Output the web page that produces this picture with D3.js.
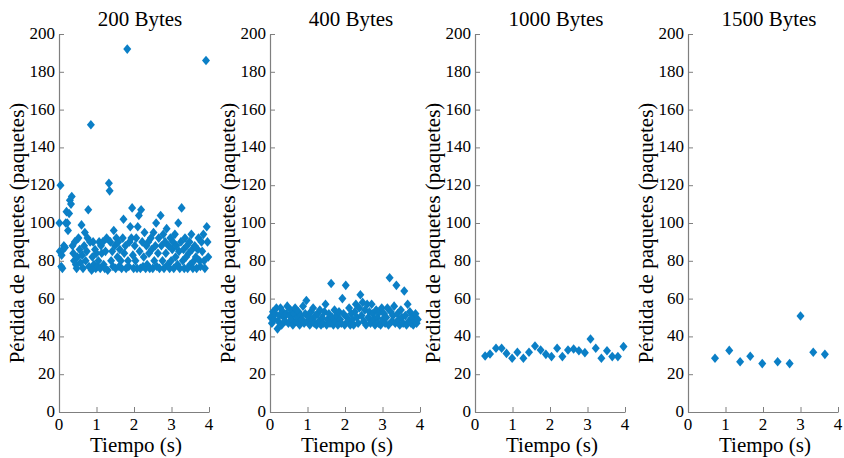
<!DOCTYPE html>
<html>
<head>
<meta charset="utf-8">
<script src="https://cdn.jsdelivr.net/npm/d3@7"></script>
<style>
  body { margin: 0; background: #fff; }
  text { font-family: "Liberation Serif", "Times New Roman", serif; }
</style>
</head>
<body>
<svg id="chart" width="844" height="458"></svg>
<script>
// ----------------------
// 1. Data
// ----------------------
const panelTitles = ["200 Bytes", "400 Bytes", "1000 Bytes", "1500 Bytes"];
const xTicks = [0, 1, 2, 3, 4];
const yTicks = [0, 20, 40, 60, 80, 100, 120, 140, 160, 180, 200];

// [tiempo (s), pérdida (paquetes)]
const loss200 = [
  [0.01,100],[0.02,85],[0.04,120],[0.06,77],[0.07,83],[0.09,76],[0.11,86],[0.13,88],[0.16,87],[0.18,100],[0.2,106],[0.22,100],[0.24,96],
  [0.27,105],[0.29,112],[0.32,110],[0.34,114],[0.36,88],[0.38,84],[0.4,80],[0.42,90],[0.45,78],[0.47,76],[0.49,82],
  [0.52,92],[0.55,86],[0.57,79],[0.6,99],[0.62,83],[0.64,76],[0.67,88],[0.69,95],[0.71,80],[0.74,85],
  [0.76,92],[0.78,107],[0.8,77],[0.83,90],[0.85,152],[0.87,75],[0.89,82],[0.91,90],[0.93,78],[0.96,86],[0.98,76],
  [1.0,84],[1.03,77],[1.05,80],[1.07,90],[1.1,76],[1.12,88],[1.14,84],[1.17,90],[1.19,78],[1.22,76],[1.24,85],
  [1.27,92],[1.3,75],[1.33,121],[1.35,117],[1.37,90],[1.39,80],[1.42,85],[1.44,77],[1.46,96],[1.49,88],
  [1.51,76],[1.53,92],[1.56,82],[1.58,90],[1.6,77],[1.62,86],[1.65,80],[1.67,76],[1.7,92],[1.72,102],[1.74,84],
  [1.77,88],[1.79,76],[1.82,192],[1.84,80],[1.86,77],[1.88,90],[1.9,98],[1.93,92],[1.95,108],[1.97,83],[1.99,76],
  [2.02,88],[2.04,80],[2.06,92],[2.08,76],[2.1,98],[2.13,104],[2.15,85],[2.17,76],[2.19,107],[2.22,90],[2.24,77],
  [2.26,82],[2.28,95],[2.31,76],[2.33,88],[2.35,78],[2.38,90],[2.4,84],[2.42,76],[2.45,92],[2.47,86],
  [2.5,76],[2.52,95],[2.54,80],[2.57,88],[2.59,100],[2.61,77],[2.64,84],[2.66,92],[2.68,76],[2.71,104],[2.73,88],
  [2.76,80],[2.78,94],[2.8,76],[2.83,90],[2.85,84],[2.87,97],[2.9,78],[2.92,88],[2.95,76],[2.97,92],[2.99,80],
  [3.02,86],[3.04,90],[3.06,76],[3.09,94],[3.11,82],[3.13,88],[3.16,78],[3.18,100],[3.2,85],[3.22,76],
  [3.25,90],[3.27,108],[3.3,80],[3.32,86],[3.34,76],[3.36,92],[3.39,82],[3.41,88],[3.43,76],[3.46,84],[3.48,90],
  [3.5,78],[3.53,94],[3.55,86],[3.57,76],[3.6,80],[3.62,88],[3.65,82],[3.67,76],[3.7,86],[3.72,92],
  [3.75,80],[3.77,77],[3.8,90],[3.82,85],[3.85,94],[3.87,80],[3.89,76],[3.92,186],[3.94,98],[3.96,90],[3.98,82]
];

const loss400 = [
  [0.02,50],[0.05,47],[0.08,53],[0.11,49],[0.14,52],[0.17,55],[0.2,44],[0.22,48],[0.25,51],[0.28,55],[0.31,46],[0.34,53],
  [0.37,50],[0.4,48],[0.43,52],[0.46,56],[0.49,47],[0.52,51],[0.55,54],[0.58,49],[0.61,46],[0.64,52],[0.67,55],[0.7,48],
  [0.73,50],[0.76,53],[0.79,46],[0.82,51],[0.85,49],[0.88,56],[0.91,47],[0.94,52],[0.97,59],[1.0,48],[1.03,50],[1.06,46],
  [1.09,53],[1.12,49],[1.15,55],[1.18,47],[1.21,51],[1.24,46],[1.27,52],[1.3,48],[1.33,54],[1.36,46],[1.39,50],[1.42,47],
  [1.45,53],[1.48,57],[1.51,46],[1.54,49],[1.57,52],[1.6,47],[1.63,68],[1.66,50],[1.69,46],[1.72,54],[1.75,48],[1.78,51],
  [1.81,46],[1.84,53],[1.87,49],[1.9,47],[1.93,60],[1.96,52],[1.99,46],[2.02,67],[2.05,50],[2.08,48],[2.11,55],[2.14,46],
  [2.17,52],[2.2,49],[2.23,46],[2.26,53],[2.29,57],[2.32,50],[2.35,47],[2.38,55],[2.41,62],[2.44,51],[2.47,58],[2.5,48],
  [2.53,54],[2.56,46],[2.59,57],[2.62,50],[2.65,53],[2.68,47],[2.71,57],[2.74,52],[2.77,49],[2.8,46],[2.83,54],[2.86,50],
  [2.89,47],[2.92,53],[2.95,46],[2.98,55],[3.01,49],[3.04,52],[3.07,47],[3.1,50],[3.13,55],[3.16,46],[3.19,71],[3.22,53],
  [3.25,48],[3.28,51],[3.31,56],[3.34,47],[3.37,67],[3.4,52],[3.43,49],[3.46,46],[3.49,54],[3.52,50],[3.55,47],[3.58,64],
  [3.61,51],[3.64,46],[3.67,57],[3.7,48],[3.73,53],[3.76,47],[3.79,50],[3.82,46],[3.85,48],[3.88,52],[3.91,47],[3.94,49]
];

const loss1000 = [
  [0.27,29.6],[0.40,30.7],[0.56,33.7],[0.71,33.7],[0.84,31],[0.99,28.4],[1.13,31.6],[1.29,28.4],[1.44,31.6],[1.60,34.9],
  [1.75,32.8],[1.89,30.5],[2.04,29.3],[2.19,33.7],[2.33,29.3],[2.48,32.8],[2.63,33.3],[2.77,32.4],[2.93,31.4],[3.08,38.6],
  [3.22,33.7],[3.37,28.4],[3.52,32.4],[3.66,29.3],[3.81,29.3],[3.96,34.6]
];

const loss1500 = [
  [0.72,28.4],[1.10,32.6],[1.39,26.6],[1.66,29.5],[1.98,25.6],[2.39,26.6],[2.71,25.6],[3.0,50.8],[3.34,31.6],[3.65,30.5]
];

const panelData = [loss200, loss400, loss1000, loss1500];

// ----------------------
// 2. SVG + layout
// ----------------------
const svg = d3.select("#chart");
const panelLefts = [59, 270, 475, 688];
const panelWidth = 150;
const plotTop = 34;
const plotBottom = 412;
const axisColor = "#7f7f7f";
const markerColor = "#0b7fc6";

const y = d3.scaleLinear().domain([0, 200]).range([plotBottom, plotTop]);
const diamond = "M0,-4.8L4,0L0,4.8L-4,0Z";

panelTitles.forEach((title, i) => {
    const x0 = panelLefts[i];
    const x = d3.scaleLinear().domain([0, 4]).range([x0, x0 + panelWidth]);
    const g = svg.append("g");

    // y axis (ticks pointing inward)
    const yAxisG = g.append("g")
        .attr("transform", `translate(${x0},0)`)
        .call(d3.axisRight(y).tickValues(yTicks).tickSize(5).tickSizeOuter(0).tickFormat(""));
    yAxisG.select(".domain").attr("stroke", axisColor).attr("stroke-width", 1.2);
    yAxisG.selectAll(".tick line").attr("stroke", axisColor);

    g.selectAll("text.ytick")
        .data(yTicks)
        .join("text")
        .attr("class", "ytick")
        .attr("x", x0 - 4)
        .attr("y", d => y(d) + 5)
        .attr("text-anchor", "end")
        .attr("font-size", 17)
        .text(d => d);

    // x axis
    const xAxisG = g.append("g")
        .attr("transform", `translate(0,${plotBottom})`)
        .call(d3.axisTop(x).tickValues(xTicks).tickSize(5).tickSizeOuter(0).tickFormat(""));
    xAxisG.select(".domain").attr("stroke", axisColor).attr("stroke-width", 1.2);
    xAxisG.selectAll(".tick line").attr("stroke", axisColor);

    g.selectAll("text.xtick")
        .data(xTicks)
        .join("text")
        .attr("class", "xtick")
        .attr("x", d => x(d))
        .attr("y", plotBottom + 18)
        .attr("text-anchor", "middle")
        .attr("font-size", 17)
        .text(d => d);

    // labels + title
    g.append("text")
        .attr("x", x0 + panelWidth / 2 + 6)
        .attr("y", 26)
        .attr("text-anchor", "middle")
        .attr("font-size", 21)
        .text(title);

    g.append("text")
        .attr("x", x0 + panelWidth / 2 + 2)
        .attr("y", plotBottom + 40)
        .attr("text-anchor", "middle")
        .attr("font-size", 21)
        .text("Tiempo (s)");

    g.append("text")
        .attr("transform", `translate(${x0 - 35},${(plotTop + plotBottom) / 2 + 10}) rotate(-90)`)
        .attr("text-anchor", "middle")
        .attr("font-size", 21)
        .text("Pérdida de paquetes (paquetes)");

    // markers
    g.selectAll("path.pt")
        .data(panelData[i])
        .join("path")
        .attr("class", "pt")
        .attr("d", diamond)
        .attr("transform", d => `translate(${x(d[0])},${y(d[1])})`)
        .attr("fill", markerColor);
});
</script>
</body>
</html>
